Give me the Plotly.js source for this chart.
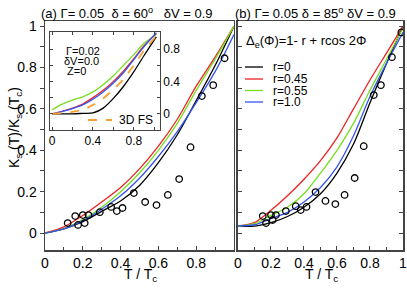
<!DOCTYPE html>
<html><head><meta charset="utf-8">
<script src="https://cdn.plot.ly/plotly-3.0.1.min.js"></script>
<style>html,body{margin:0;padding:0;background:#fff}#c{width:407px;height:288px}</style>
</head><body><div id="c"></div>
<script>
// ---- data ----
const tGrid = [0,0.1,0.2,0.3,0.4,0.5,0.6,0.7,0.8,0.9,1.0];
// panel (a)
const aBlack = [0,0.02,0.055,0.105,0.155,0.23,0.34,0.475,0.64,0.81,1.0];
const aRed   = [0,0.03,0.085,0.15,0.22,0.31,0.42,0.55,0.71,0.85,1.0];
const aGreen = [0,0.022,0.065,0.125,0.20,0.29,0.40,0.53,0.69,0.84,1.0];
const aBlue  = [0,0.02,0.06,0.115,0.18,0.265,0.37,0.49,0.63,0.78,0.96];
const aPtsX = [0.12,0.16,0.175,0.20,0.21,0.23,0.29,0.35,0.38,0.41,0.47,0.53,0.59,0.65,0.71,0.77,0.83,0.89,0.95];
const aPtsY = [0.048,0.082,0.039,0.087,0.048,0.087,0.101,0.126,0.106,0.121,0.193,0.150,0.135,0.184,0.261,0.415,0.662,0.715,0.845];
// inset of (a)
const inX      = [0,0.1,0.2,0.3,0.4,0.5,0.6,0.7,0.8,0.9,1.02];
const inGreen  = [0.05,0.12,0.17,0.21,0.27,0.36,0.47,0.60,0.73,0.87,0.98];
const inRed    = [0.0,0.03,0.07,0.12,0.20,0.29,0.40,0.53,0.68,0.84,0.99];
const inBlue   = [0.0,0.03,0.065,0.11,0.18,0.27,0.38,0.51,0.67,0.83,1.0];
const inOrange = [0,0.01,0.025,0.05,0.11,0.19,0.30,0.43,0.60,0.78,0.96];
const inBlack  = [0,0,0,0.005,0.01,0.07,0.19,0.34,0.52,0.72,0.95];
// panel (b)
const bBlack = [0.035,0.033,0.05,0.08,0.125,0.19,0.29,0.43,0.63,0.82,1.0];
const bRed   = [0.035,0.05,0.11,0.18,0.26,0.35,0.46,0.60,0.74,0.87,1.0];
const bGreen = [0.035,0.045,0.085,0.125,0.19,0.29,0.40,0.53,0.69,0.84,0.99];
const bBlue  = [0.035,0.04,0.07,0.10,0.15,0.22,0.32,0.47,0.66,0.82,0.97];
const bPtsX = [0.15,0.17,0.20,0.21,0.23,0.29,0.35,0.38,0.415,0.47,0.53,0.59,0.646,0.707,0.762,0.823,0.866,0.933,0.99];
const bPtsY = [0.082,0.048,0.087,0.063,0.087,0.106,0.130,0.111,0.126,0.198,0.155,0.140,0.184,0.266,0.42,0.667,0.715,0.85,0.97];
const legendLabels = ['r=0','r=0.45','r=0.55','r=1.0'];
const xTicksA = [0,0.2,0.4,0.6,0.8];
const xTicksB = [0,0.2,0.4,0.6,0.8,1];
const yTicks  = [0,0.2,0.4,0.6,0.8,1];
const inTicks = [0,0.4,0.8];

// ---- styling ----
const C = {black:'#000000', red:'#ee2222', green:'#77dd22', blue:'#3355ee', orange:'#f5a030'};
const FONT = 'Liberation Sans, Arial, sans-serif';
function ln(x,y,color,xa,ya,dash){return {x:x,y:y,xaxis:xa,yaxis:ya,mode:'lines',line:{color:color,width:1.3,dash:dash||'solid',shape:'spline',smoothing:0.8},hoverinfo:'skip',showlegend:false};}
function pts(x,y,xa,ya){return {x:x,y:y,xaxis:xa,yaxis:ya,mode:'markers',marker:{symbol:'circle-open',size:6.5,color:'#000',line:{width:1.3,color:'#000'}},showlegend:false};}

const traces = [
  ln(tGrid,aBlack,C.black,'x','y'), ln(tGrid,aRed,C.red,'x','y'), ln(tGrid,aGreen,C.green,'x','y'), ln(tGrid,aBlue,C.blue,'x','y'),
  pts(aPtsX,aPtsY,'x','y'),
  ln(tGrid,bBlack,C.black,'x2','y2'), ln(tGrid,bRed,C.red,'x2','y2'), ln(tGrid,bGreen,C.green,'x2','y2'), ln(tGrid,bBlue,C.blue,'x2','y2'),
  pts(bPtsX,bPtsY,'x2','y2'),
  ln(inX,inBlack,C.black,'x3','y4'), ln(inX,inGreen,C.green,'x3','y4'), ln(inX,inRed,C.red,'x3','y4'), ln(inX,inBlue,C.blue,'x3','y4'),
  ln(inX,inOrange,C.orange,'x3','y4','dash')
];
traces[traces.length-1].line.width = 1.8;

const AX = '#444';
const yr = [-0.082,1.025];
const layout = {
  width:407, height:288, margin:{l:45,r:4,t:21,b:38},
  paper_bgcolor:'#fff', plot_bgcolor:'#fff',
  font:{family:FONT, size:14, color:'#000'},
  xaxis:{domain:[0,0.5279], range:[0,1], anchor:'y', tickvals:xTicksA, ticks:'inside', ticklen:4, tickcolor:AX,
    minor:{dtick:0.1, tick0:0, ticks:'inside', ticklen:3, tickcolor:AX}, showline:true, linecolor:AX, linewidth:1.5, mirror:true, showgrid:false, zeroline:false},
  yaxis:{domain:[0,1], range:yr, anchor:'x', tickvals:yTicks, ticks:'outside', ticklen:4, tickcolor:AX,
    minor:{dtick:0.1, tick0:0, ticks:'outside', ticklen:4, tickcolor:AX}, showline:true, linecolor:AX, linewidth:1.5, mirror:true, showgrid:false, zeroline:false},
  yaxis3:{range:yr, overlaying:'y', anchor:'x', side:'right', dtick:0.1, tick0:0, ticks:'inside', ticklen:4, tickcolor:AX, showticklabels:false, showline:false, showgrid:false, zeroline:false},
  xaxis2:{domain:[0.5391,1], range:[0,1], anchor:'y2', tickvals:xTicksB, ticktext:['0','0.2','0.4','0.6','0.8','1'], ticklabeloverflow:'allow', ticks:'inside', ticklen:4, tickcolor:AX,
    minor:{dtick:0.1, tick0:0, ticks:'inside', ticklen:3, tickcolor:AX}, showline:true, linecolor:AX, linewidth:1.5, mirror:true, showgrid:false, zeroline:false},
  yaxis2:{domain:[0,1], range:yr, anchor:'x2', dtick:0.1, tick0:0, ticks:'inside', ticklen:4, tickcolor:AX, showticklabels:false,
    showline:true, linecolor:AX, linewidth:1.5, mirror:'ticks', showgrid:false, zeroline:false},
  xaxis3:{domain:[0.014,0.321], range:[-0.02,1.055], anchor:'y4', tickvals:inTicks, ticks:'inside', ticklen:3, tickcolor:AX,
    minor:{tickvals:[0.2,0.6,1.0], ticks:'inside', ticklen:3, tickcolor:AX}, tickfont:{size:12}, showline:true, linecolor:AX, linewidth:1, mirror:'ticks', showgrid:false, zeroline:false},
  yaxis4:{domain:[0.524,0.952], range:[-0.2,1.01], anchor:'x3', side:'right', tickvals:inTicks, ticks:'inside', ticklen:3, tickcolor:AX,
    minor:{tickvals:[0.2,0.6], ticks:'inside', ticklen:3, tickcolor:AX}, tickfont:{size:12}, showline:true, linecolor:AX, linewidth:1, mirror:'ticks', showgrid:false, zeroline:false},
  showlegend:false,
  annotations:[
    {xref:'paper',yref:'paper',x:-0.0168,y:1.035,xanchor:'left',yanchor:'middle',showarrow:false,font:{size:13},
     text:'(a) Γ= 0.05  δ = 60<sup>o</sup>   δV = 0.9'},
    {xref:'paper',yref:'paper',x:0.5251,y:1.035,xanchor:'left',yanchor:'middle',showarrow:false,font:{size:13},
     text:'(b) Γ= 0.05 δ = 85<sup>o</sup> δV = 0.9'},
    {xref:'paper',yref:'paper',x:-0.0838,y:0.537,xanchor:'center',yanchor:'middle',textangle:-90,showarrow:false,font:{size:14},
     text:'K<sub>s</sub> (T)/K<sub>s</sub> (T<sub>c</sub>)'},
    {xref:'paper',yref:'paper',x:0.2654,y:-0.109,xanchor:'center',yanchor:'middle',showarrow:false,font:{size:14},text:'T / T<sub>c</sub>'},
    {xref:'paper',yref:'paper',x:0.7737,y:-0.109,xanchor:'center',yanchor:'middle',showarrow:false,font:{size:14},text:'T / T<sub>c</sub>'},
    {xref:'paper',yref:'paper',x:0.5559,y:0.9083,xanchor:'left',yanchor:'middle',showarrow:false,font:{size:13},
     text:'Δ<sub>e</sub>(Φ)=1- r + rcos 2Φ'},
    {xref:'paper',yref:'paper',x:0.0531,y:0.869,xanchor:'left',yanchor:'middle',showarrow:false,font:{size:11},text:'Γ=0.02'},
    {xref:'paper',yref:'paper',x:0.0475,y:0.8253,xanchor:'left',yanchor:'middle',showarrow:false,font:{size:11},text:'δV=0.0'},
    {xref:'paper',yref:'paper',x:0.0559,y:0.7817,xanchor:'left',yanchor:'middle',showarrow:false,font:{size:11},text:'Z=0'},
    {xref:'paper',yref:'paper',x:0.2011,y:0.5677,xanchor:'left',yanchor:'middle',showarrow:false,font:{size:12},text:'3D FS'}
  ],
  shapes:[
    {type:'line',xref:'paper',yref:'paper',x0:0.1201,x1:0.1872,y0:0.5677,y1:0.5677,line:{color:C.orange,width:1.8,dash:'dash'}}
  ]
};
const legColors=[C.black,C.red,C.green,C.blue];
const legY=[0.7991,0.7467,0.6965,0.6463];
legendLabels.forEach((t,i)=>{
  layout.shapes.push({type:'line',xref:'paper',yref:'paper',x0:0.5587,x1:0.6089,y0:legY[i],y1:legY[i],line:{color:legColors[i],width:1.3}});
  layout.annotations.push({xref:'paper',yref:'paper',x:0.6313,y:legY[i],xanchor:'left',yanchor:'middle',showarrow:false,font:{size:12},text:t});
});
Plotly.newPlot('c',traces,layout,{staticPlot:true});
</script></body></html>
